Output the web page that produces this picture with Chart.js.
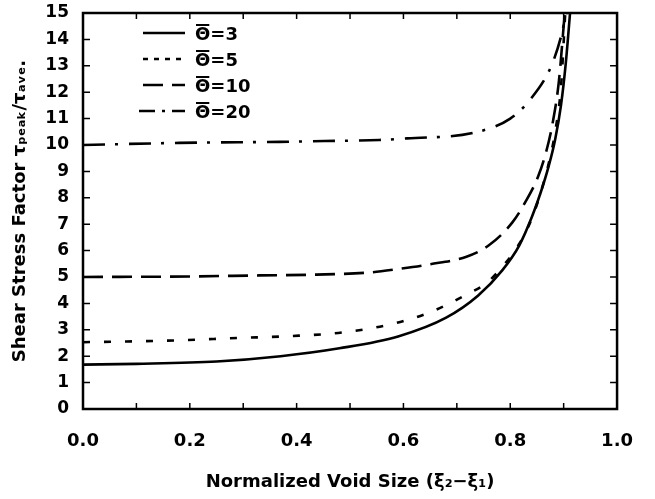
<!DOCTYPE html>
<html>
<head>
<meta charset="utf-8">
<script src="https://cdn.jsdelivr.net/npm/chart.js@4.4.0/dist/chart.umd.min.js"></script>
<style>
html,body{margin:0;padding:0;background:#fff;}
#wrap{width:655px;height:499px;}
</style>
</head>
<body>
<div id="wrap"><canvas id="c" width="655" height="499"></canvas></div>
<script>
// values
const seriesLabels = ['Θ̄=3', 'Θ̄=5', 'Θ̄=10', 'Θ̄=20'];

const x3  = [0, 0.1, 0.25, 0.37, 0.48, 0.59, 0.68, 0.74, 0.785, 0.817, 0.841, 0.857, 0.872, 0.884, 0.895, 0.904, 0.912];
const y3  = [1.68, 1.71, 1.8, 2.0, 2.3, 2.75, 3.46, 4.3, 5.25, 6.2, 7.3, 8.2, 9.2, 10.2, 11.5, 13.1, 15];

const x5  = [0, 0.175, 0.29, 0.387, 0.486, 0.587, 0.654, 0.723, 0.755, 0.79, 0.817, 0.84, 0.857, 0.872, 0.885, 0.895, 0.903];
const y5  = [2.53, 2.6, 2.69, 2.76, 2.9, 3.26, 3.7, 4.39, 4.76, 5.5, 6.26, 7.2, 8.2, 9.3, 10.6, 12.2, 15];

const x10 = [0, 0.2, 0.33, 0.437, 0.536, 0.586, 0.649, 0.718, 0.76, 0.804, 0.83, 0.852, 0.868, 0.88, 0.891, 0.902];
const y10 = [5.0, 5.02, 5.06, 5.09, 5.17, 5.29, 5.48, 5.77, 6.2, 7.07, 7.9, 8.8, 9.8, 10.9, 12.4, 15];

const x20 = [0, 0.18, 0.368, 0.452, 0.555, 0.607, 0.733, 0.80, 0.839, 0.877, 0.895, 0.905];
const y20 = [10.0, 10.08, 10.12, 10.15, 10.19, 10.25, 10.47, 11.0, 11.76, 13.0, 14.1, 15];

const dashes = [[], [7, 14], [20, 9], [22, 10, 3, 11]];

function pts(xs, ys){ return xs.map((v,i)=>({x:v, y:ys[i]})); }

const FONT = "'DejaVu Sans', sans-serif";

// box round the plot + inward ticks on all four sides
const framePlugin = {
  id:'frame',
  afterDraw(chart){
    const {ctx, chartArea:a, scales} = chart;
    ctx.save();
    ctx.strokeStyle = '#000';
    ctx.lineWidth = 1.5;
    ctx.beginPath();
    scales.x.ticks.forEach(t=>{
      const px = scales.x.getPixelForValue(t.value);
      ctx.moveTo(px, a.bottom); ctx.lineTo(px, a.bottom-6);
      ctx.moveTo(px, a.top); ctx.lineTo(px, a.top+6);
    });
    scales.y.ticks.forEach(t=>{
      const py = scales.y.getPixelForValue(t.value);
      ctx.moveTo(a.left, py); ctx.lineTo(a.left+7, py);
      ctx.moveTo(a.right, py); ctx.lineTo(a.right-7, py);
    });
    ctx.stroke();
    ctx.lineWidth = 2.5;
    ctx.strokeRect(a.left, a.top, a.right-a.left, a.bottom-a.top);
    ctx.restore();
  }
};

// legend with line samples, top left inside the plot
const legendPlugin = {
  id:'lineLegend',
  afterDraw(chart){
    const ctx = chart.ctx;
    const rowsY = [33, 59, 85, 111];
    ctx.save();
    ctx.font = 'bold 18px ' + FONT;
    ctx.textBaseline = 'middle';
    chart.data.datasets.forEach((ds,i)=>{
      const y = rowsY[i];
      ctx.strokeStyle = '#000';
      ctx.lineWidth = 2.5;
      ctx.setLineDash(i===3 ? [16,7,3,7] : (i===1 ? [5,6] : ds.borderDash));
      ctx.beginPath();
      ctx.moveTo(i===3 ? 139 : 143, y);
      ctx.lineTo(185, y);
      ctx.stroke();
      ctx.setLineDash([]);
      ctx.fillStyle = '#000';
      // theta with an overbar, then the value
      const th = ds.label.charAt(0);
      const rest = ds.label.slice(2);
      const wTh = ctx.measureText(th).width;
      ctx.fillText(th, 195, y+2);
      ctx.lineWidth = 2;
      ctx.beginPath();
      ctx.moveTo(196, y-8); ctx.lineTo(195+wTh-1, y-8);
      ctx.stroke();
      ctx.fillText(rest, 195+wTh, y+2);
    });
    ctx.restore();
  }
};

const sets = [[x3,y3],[x5,y5],[x10,y10],[x20,y20]];

new Chart(document.getElementById('c'), {
  type:'scatter',
  data:{
    datasets: sets.map((s,i)=>({
      label: seriesLabels[i],
      data: pts(s[0], s[1]),
      showLine:true,
      borderColor:'#000',
      borderWidth:2.6,
      borderDash: dashes[i],
      pointRadius:0,
      cubicInterpolationMode:'monotone',
      fill:false
    }))
  },
  options:{
    responsive:false,
    animation:false,
    layout:{padding:{top:13, right:37, left:0, bottom:0}},
    plugins:{legend:{display:false}, tooltip:{enabled:false}},
    scales:{
      x:{
        type:'linear', min:0, max:1,
        afterFit(s){ s.height = 90; },
        grid:{display:false, drawTicks:false},
        border:{display:false},
        ticks:{
          stepSize:0.1, padding:22, color:'#000', maxRotation:0, autoSkip:false,
          font:{family:FONT, size:18, weight:'bold'},
          callback(v){ const k = Math.round(v*10); return k%2===0 ? (k/10).toFixed(1) : ''; }
        },
        title:{display:true, text:'Normalized Void Size (ξ₂−ξ₁)', color:'#000',
          font:{family:FONT, size:18, weight:'bold'}, padding:{top:0, bottom:6}}
      },
      y:{
        min:0, max:15,
        afterFit(s){ s.width = 83; s.paddingTop = 0; s.paddingBottom = 0; },
        grid:{display:false, drawTicks:false},
        border:{display:false},
        ticks:{stepSize:1, autoSkip:false, padding:14, color:'#000', font:{family:FONT, size:17, weight:'bold'}},
        title:{display:true, text:'Shear Stress Factor τₚₑₐₖ/τₐᵥₑ.', color:'#000',
          font:{family:FONT, size:18, weight:'bold'}, padding:{top:10, bottom:0}}
      }
    }
  },
  plugins:[framePlugin, legendPlugin]
});
</script>
</body>
</html>
